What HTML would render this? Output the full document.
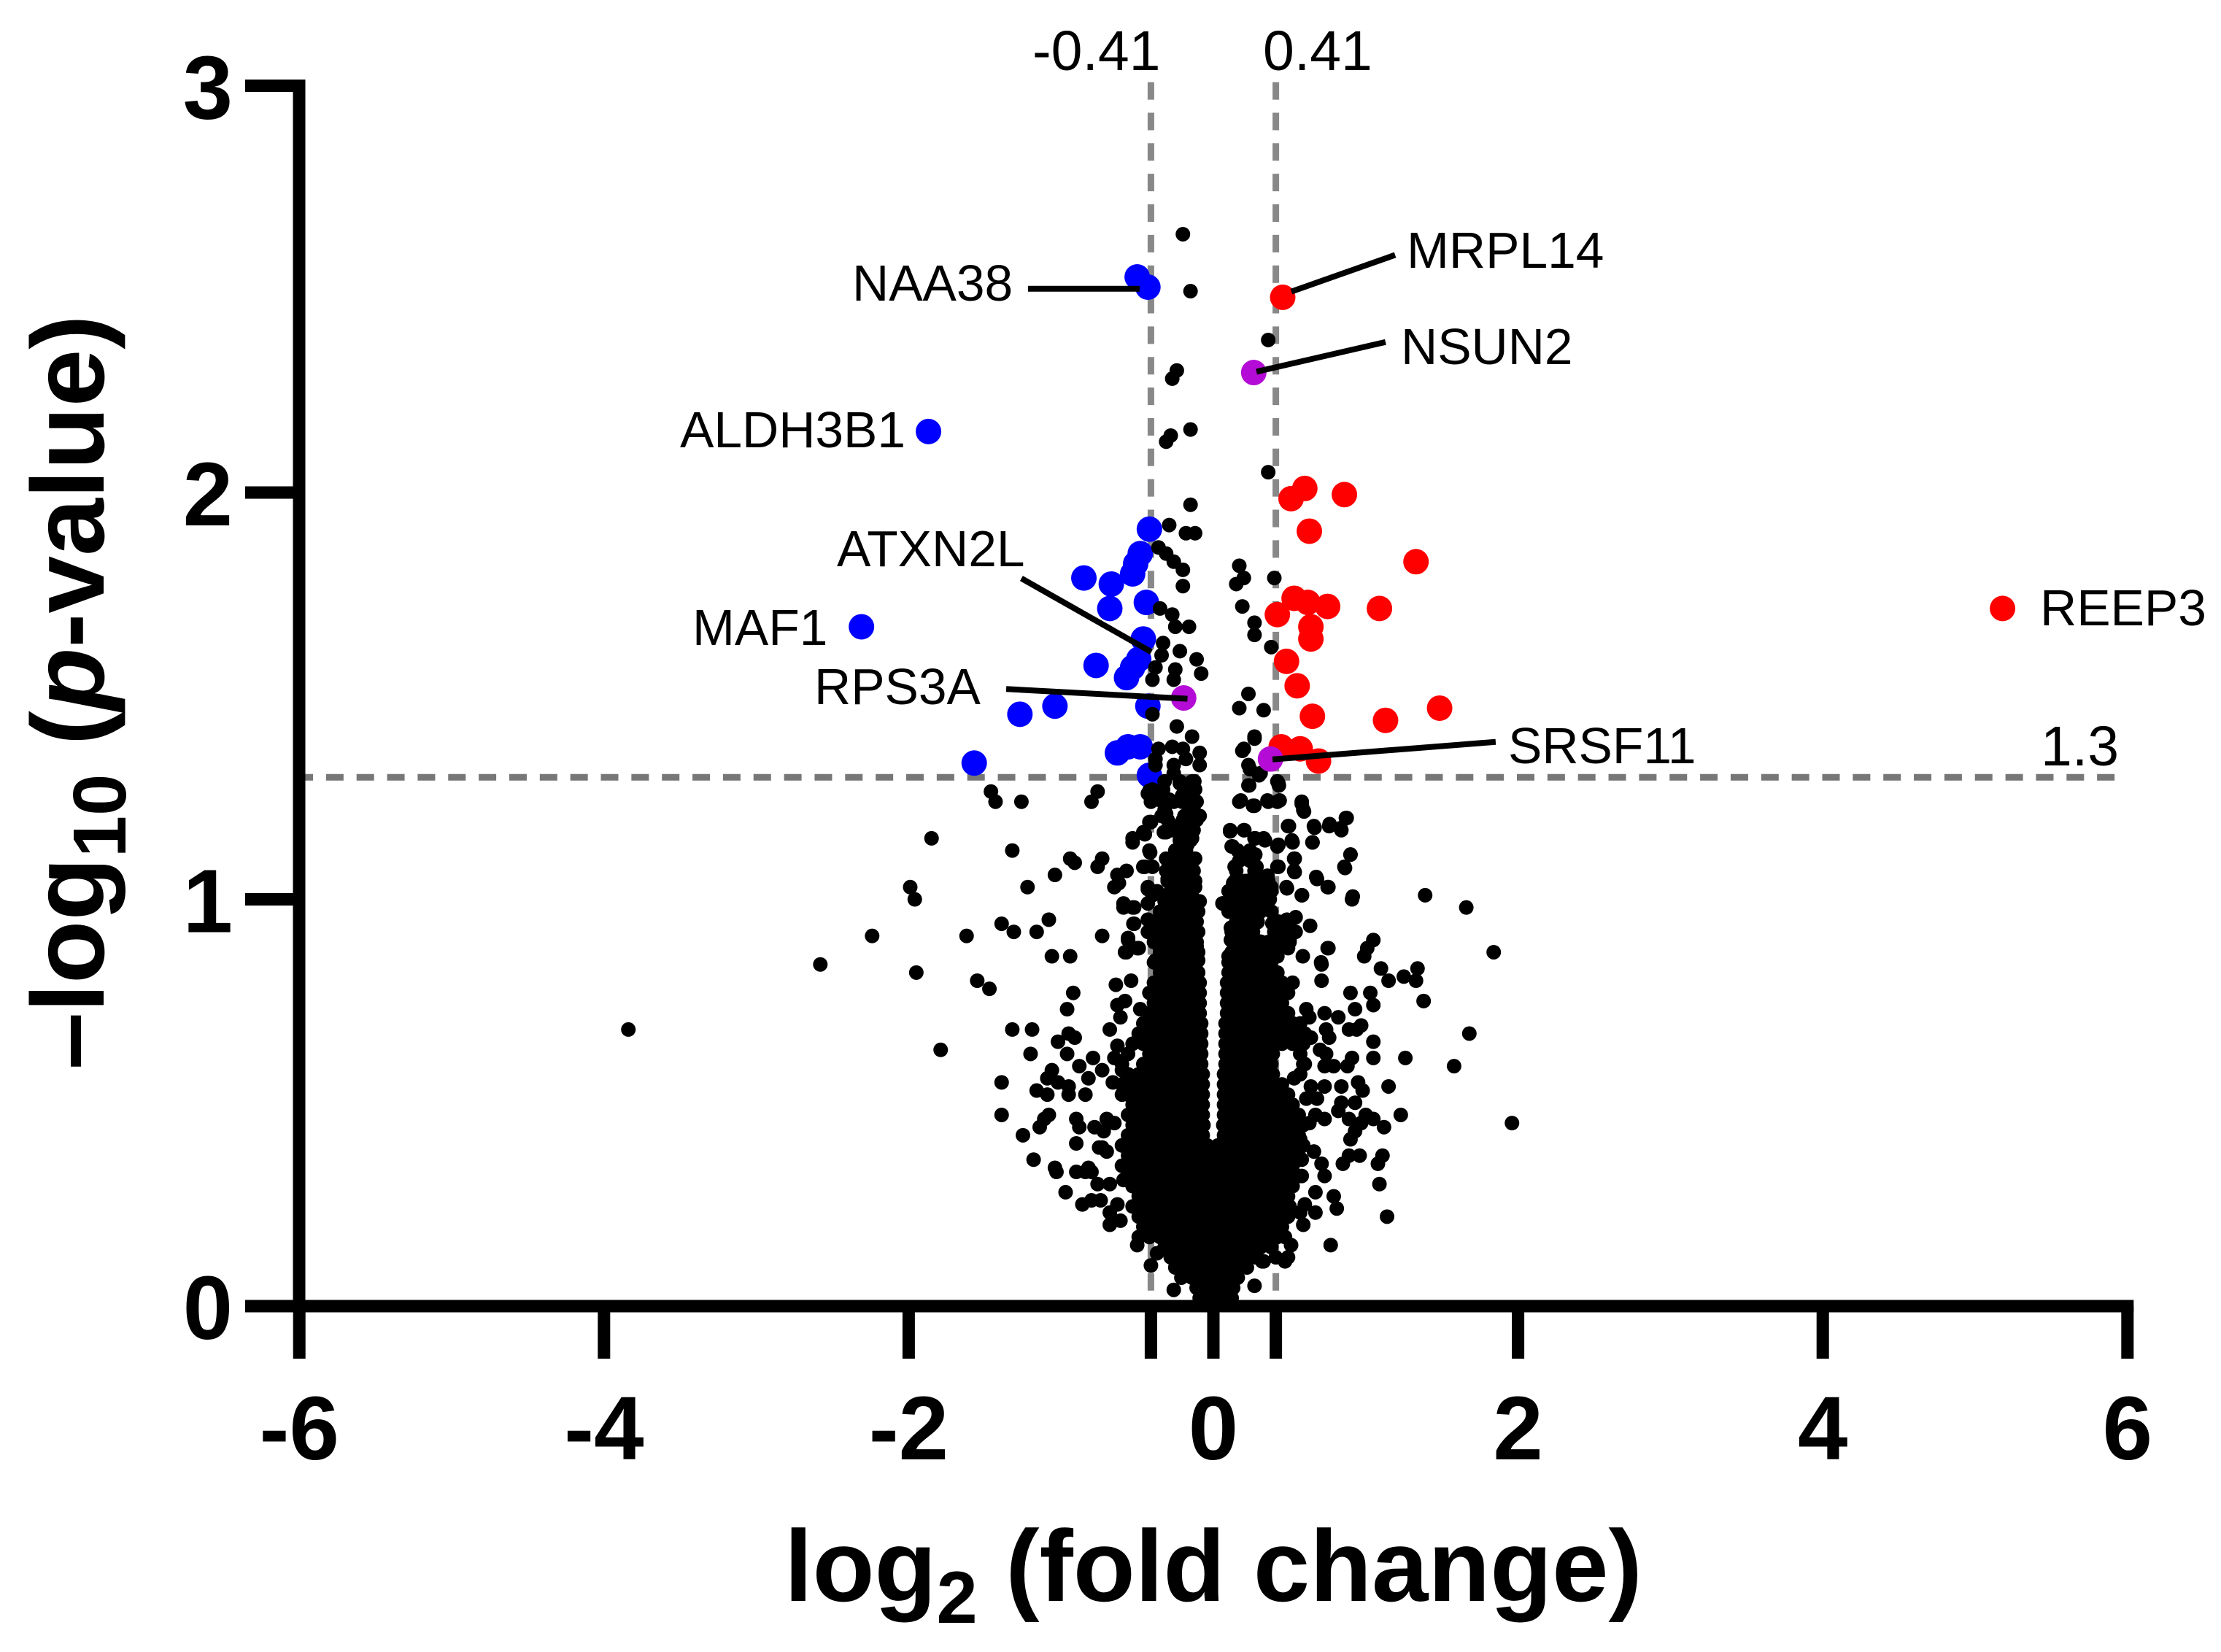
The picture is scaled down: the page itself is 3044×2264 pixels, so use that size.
<!DOCTYPE html>
<html lang="en">
<head>
<meta charset="utf-8">
<title>Volcano plot</title>
<style>
html,body{margin:0;padding:0;background:#fff}
svg{display:block;font-family:"Liberation Sans",Arial,sans-serif}
.gene{font-size:69.5px;fill:#000}
.thr{font-size:77px;fill:#000}
.tick{font-size:123px;font-weight:700;fill:#000}
.title{font-size:139px;font-weight:700;fill:#000}
</style>
</head>
<body>
<svg id="chart" width="3044" height="2264" viewBox="0 0 3044 2264" xmlns="http://www.w3.org/2000/svg">
  <rect width="3044" height="2264" fill="#fff"/>
  <g id="thresholds"></g>
  <g id="pts"></g>
  <g id="axes"></g>
  <g id="leaders"></g>

  <text class="thr" x="1415" y="96">-0.41</text>
  <text class="thr" x="1731" y="96">0.41</text>
  <text class="thr" x="2797" y="1049">1.3</text>

  <text class="gene" x="1928" y="367">MRPL14</text>
  <text class="gene" x="1920" y="499">NSUN2</text>
  <text class="gene" x="1168" y="412">NAA38</text>
  <text class="gene" x="932" y="613">ALDH3B1</text>
  <text class="gene" x="1147" y="776">ATXN2L</text>
  <text class="gene" x="949" y="884">MAF1</text>
  <text class="gene" x="1116" y="965">RPS3A</text>
  <text class="gene" x="2067" y="1046">SRSF11</text>
  <text class="gene" x="2796" y="857">REEP3</text>

  <text class="title" x="1075" y="2194">log<tspan font-size="101" dy="30">2</tspan><tspan dy="-30"> (fold change)</tspan></text>
  <text class="title" style="font-size:141.5px" transform="translate(142,1466) rotate(-90)" x="0" y="0">–log<tspan font-size="103" dy="30">10</tspan><tspan dy="-30"> (</tspan><tspan font-style="italic">p</tspan>-value)</text>
</svg>
<script>
const xTickValues=[-6,-4,-2,-0.41,0,0.41,2,4,6];
const xTickLabels=['-6','-4','-2','','0','','2','4','6'];
const yTickValues=[0,1,2,3];
const yTickLabels=['0','1','2','3'];
const foldChangeCutoffs=[-0.41,0.41];
const pValueCutoffs=[1.3];

const bluePoints=[[-.50,2.53],[-.43,2.505],[-1.87,2.15],[-2.31,1.67],[-.42,1.91],[-.48,1.85],[-.51,1.825],[-.53,1.80],[-.85,1.79],[-.67,1.775],[-.68,1.715],[-.44,1.73],[-.46,1.64],[-.49,1.59],[-.53,1.57],[-.57,1.545],[-.77,1.575],[-1.04,1.475],[-1.27,1.455],[-.43,1.475],[-.63,1.36],[-.56,1.375],[-.48,1.375],[-1.57,1.335],[-.42,1.305]];

const redPoints=[[.455,2.48],[.60,2.01],[.51,1.985],[.86,1.995],[.63,1.905],[1.33,1.83],[.53,1.74],[.62,1.73],[.75,1.72],[.42,1.70],[1.09,1.715],[.64,1.67],[.64,1.64],[.48,1.585],[.55,1.525],[.65,1.45],[1.485,1.47],[1.13,1.44],[.445,1.375],[.57,1.37],[.69,1.34],[5.18,1.715]];

const purplePoints=[[.265,2.295],[-.195,1.495],[.375,1.345]];

const scatterPoints=[
[-.20,2.635],[-.15,2.495],[.36,2.375],[-.24,2.30],[-.27,2.28],[-.15,2.155],[-.28,2.14],[-.31,2.125],[.36,2.05],[-.15,1.97],
[-.29,1.92],[-.18,1.90],[-.12,1.90],[-.36,1.865],[-.31,1.85],[-.26,1.83],[-.20,1.81],[-.20,1.77],[.17,1.82],[.20,1.79],[.15,1.775],[.40,1.79],[.19,1.72],
[-.35,1.715],[-.27,1.70],[-.25,1.67],[-.16,1.67],[.27,1.68],[.27,1.65],[.38,1.62],[-.33,1.63],[-.34,1.60],[-.22,1.61],[-.38,1.57],[-.40,1.54],[-.25,1.565],[-.26,1.54],[-.11,1.59],[-.08,1.555],
[.23,1.505],[.17,1.47],[.33,1.465],[-.40,1.455],[-.24,1.425],[-.14,1.40],[.27,1.395],[.19,1.365],
[-.36,1.37],[-.27,1.375],[-.20,1.37],[-.38,1.345],[-.18,1.345],[-.38,1.33],[-.09,1.36],[-.09,1.33],[-.26,1.33],[.23,1.33],[.30,1.305],
[-1.46,1.265],[-1.43,1.24],[-1.26,1.24],[-.76,1.265],[-.80,1.24],[.43,1.28],
[-.26,1.31],[-.22,1.285],[-.14,1.29],[-.42,1.267],[-.34,1.255],[-.26,1.24],[-.41,1.24],[-.19,1.26],[-.12,1.24],
[-.34,1.205],[-.26,1.18],[-.19,1.205],[-.12,1.20],[-.42,1.19],[-.46,1.165],[-.31,1.165],[-.14,1.165],[-.53,1.15],[-.22,1.16],
[.27,1.40],[.20,1.37],[.24,1.32],[.31,1.31],[.42,1.29],[.23,1.28],[.17,1.24],[.27,1.23],[.36,1.24],[.42,1.24],[.58,1.24],[.59,1.22],[.87,1.20],[.84,1.17],[.76,1.18],[.66,1.18],[.65,1.14],[.49,1.18],[.52,1.14],[.42,1.13],[.33,1.15],[.11,1.17],[.20,1.17],[.27,1.15],[.12,1.13],[.18,1.11],[.27,1.11],[.14,1.08],[.28,1.08],[.53,1.10],[.53,1.07],[.42,1.08],[.90,1.11],[.86,1.08],[.68,1.05],[.75,1.03],[.48,1.03],[.58,1.01],[.91,1.00],[1.39,1.01],[1.66,.98],[1.84,.87],[.06,.99],[.75,.88],[.71,.84],[.71,.80],[1.05,.90],[1.01,.88],[.99,.86],[1.10,.83],[1.15,.80],[1.25,.81],[1.34,.83],[1.33,.80],[1.38,.75],[.90,.77],[1.03,.77],[1.05,.74],[.93,.73],[1.68,.67],[1.58,.59],[.61,.73],[.63,.71],[.73,.72],[.82,.71],[.74,.68],[.76,.66],[.89,.68],[.94,.68],[.97,.69],[.64,.66],[.70,.63],[.74,.62],[.73,.59],[.79,.59],[.88,.59],[.91,.61],[1.05,.65],[1.05,.61],[1.26,.61],[.64,.54],[.73,.54],[.84,.54],[.95,.55],[.98,.53],[1.15,.54],[.61,.51],[.68,.51],[.67,.47],[.73,.46],[.84,.50],[.82,.48],[.89,.46],[.93,.50],[1.00,.47],[1.05,.46],[1.23,.47],[1.12,.44],[1.96,.45],[.97,.45],[.93,.43],[.90,.41],[1.11,.37],[1.08,.35],[1.09,.30],[.85,.35],[.89,.37],[.96,.37],[1.14,.22],[.79,.27],[.81,.24],[.67,.23],[.77,.15],[.59,.20],[.60,.25],[.57,.23],[.66,.38],[.71,.35],[.73,.32],[.67,.28],[.58,.36],[.58,.32],[.63,.45],[.57,.41],[.53,.56],[.51,.15],[.49,.12],[.41,.12],[.32,.11],[.27,.05],[.33,.11],[.47,.11],
[-1.85,1.15],[-1.99,1.03],[-1.96,1.00],[-2.24,.91],[-2.58,.84],[-1.95,.82],[-3.84,.68],[-1.79,.63],
[-1.32,1.12],[-.94,1.10],[-.91,1.09],[-.73,1.10],[-.76,1.08],[-1.04,1.06],[-1.22,1.03],[-.57,1.07],[-.63,1.06],[-.62,1.04],[-.65,1.03],[-1.39,.94],[-1.31,.92],[-1.16,.92],[-1.08,.95],[-1.62,.91],[-.73,.91],[-1.06,.86],[-.94,.86],[-1.55,.80],[-1.47,.78],[-.64,.79],[-.54,.80],[-.92,.77],[-.96,.73],[-1.32,.68],[-1.19,.68],[-1.02,.65],[-.95,.67],[-.91,.66],[-1.20,.62],[-.96,.62],[-.79,.61],[-.88,.59],[-.73,.58],[-.82,.56],[-1.06,.58],[-1.09,.56],[-1.02,.55],[-.95,.54],[-1.16,.53],[-1.09,.52],[-.95,.52],[-.84,.52],[-1.39,.55],[-1.39,.47],[-1.08,.47],[-1.11,.46],[-1.14,.44],[-.90,.46],[-.88,.44],[-.78,.44],[-1.25,.42],[-.90,.40],[-1.18,.36],[-1.04,.34],[-.82,.34],
[-.41,1.19],[-.45,1.16],[-.42,1.12],[-.46,1.08],[-.43,1.03],[-.37,1.02],[-.59,.99],[-.52,.98],[-.52,.94],[-.56,.90],[-.50,.88],[-.58,.87],[-.58,.75],[-.63,.74],[-.61,.71],[-.48,.73],[-.68,.68],[-.63,.64],[-.65,.61],[-.73,.39],[-.72,.43],[-.65,.45],[-.60,.58],[-.66,.55],[-.60,.52],
[-1.03,.33],[-.90,.33],[-.84,.33],[-.80,.33],[-.76,.30],[-.68,.30],[-.59,.31],[-.97,.28],[-.86,.25],[-.80,.26],[-.74,.26],[-.63,.25],[-.68,.23],[-.61,.21],[-.68,.20],[-.50,.15],[-.41,.10],[-.37,.13],[-.26,.04],[-.70,.46],[-.75,.39],[-.70,.38]
];

const neckPoints=[
[-.32,1.29],[-.22,1.29],[-.125,1.29],[-.43,1.26],[-.34,1.255],[-.205,1.255],[-.11,1.24],[-.205,1.24],[-.31,1.21],[-.09,1.205],[-.17,1.21],[-.41,1.19],[-.45,1.16],[-.325,1.165],[-.205,1.18],[-.14,1.15],[-.53,1.14],[-.22,1.13],[-.17,1.135],[-.415,1.115],[-.45,1.08],[-.31,1.10],[-.24,1.10],[-.12,1.10],[-.40,1.08],[-.31,1.07],[-.16,1.075],[-.30,1.05],[-.205,1.03],[-.12,1.03],[-.43,1.025],[-.40,1.01],[-.59,.98],[-.53,.98],[-.43,.99],[-.32,1.0],[-.22,1.0],[-.09,.995],[-.525,.94],[-.43,.95],[-.33,.956],[-.22,.956],[-.14,.95],[-.56,.905],[-.49,.88],[-.57,.87],[-.43,.92],[-.33,.92],[-.22,.92],[-.125,.92],[-.35,.88],[-.24,.88],[-.11,.885],[-.38,.85],[-.27,.85],[-.10,.85],
[.235,1.28],[.427,1.285],[.18,1.243],[.26,1.23],[.355,1.243],[.435,1.243],[.58,1.235],[.595,1.216],[.875,1.20],[.763,1.185],[.835,1.175],[.664,1.176],[.651,1.14],[.496,1.18],[.515,1.145],[.427,1.134],[.339,1.145],[.11,1.167],[.203,1.17],[.275,1.15],[.126,1.13],[.21,1.11],[.275,1.11],[.14,1.08],[.283,1.08],[.427,1.08],[.534,1.10],[.534,1.067],[.90,1.11],[.864,1.077],[.675,1.055],[.755,1.03],[.483,1.027],[.582,1.01],[.915,1.007],[.13,1.04],[.235,1.046],[.355,1.058],[.38,1.03],[.37,1.0],[.06,.99],[.147,1.01],[.243,1.0],[.163,.974],[.26,.968],[.115,.93],[.21,.938],[.29,.944],[.387,.941],[.483,.95],[.54,.956],[.635,.935],[.435,.92],[.50,.90],[.115,.90],[.21,.90],[.31,.896],[.40,.89],[.49,.88],[.10,.86],[.21,.86],[.32,.86],[.42,.86],[.587,.86],[.755,.88],[.707,.845]
];

const upperLobePoints=[
[-.35,.87],[-.28,.87],[-.21,.87],[-.14,.87],[-.10,.87],[.12,.87],[.19,.87],[.26,.87],[.33,.87],[.40,.87],
[-.39,.895],[-.32,.895],[-.25,.895],[-.18,.895],[-.11,.895],[.15,.895],[.22,.895],[.29,.895],[.36,.895],[.43,.895],[.50,.895],
[-.35,.92],[-.28,.92],[-.21,.92],[-.14,.92],[-.10,.92],[.12,.92],[.19,.92],[.26,.92],[.40,.92],[.47,.92],[.54,.92],
[-.39,.945],[-.32,.945],[-.25,.945],[-.18,.945],[-.11,.945],[.15,.945],[.22,.945],[.29,.945],[.43,.945],[.50,.945],
[-.35,.97],[-.28,.97],[-.21,.97],[-.14,.97],[-.10,.97],[.10,.97],[.17,.97],[.24,.97],[.31,.97],[.38,.97],
[-.32,.995],[-.25,.995],[-.18,.995],[-.11,.995],[.14,.995],[.21,.995],[.28,.995],[.35,.995],
[-.28,1.02],[-.21,1.02],[-.14,1.02],[.10,1.02],[.17,1.02],[.24,1.02],[.31,1.02],[.38,1.02],
[-.30,1.045],[-.23,1.045],[-.16,1.045],[-.12,1.045],[.14,1.045],[.21,1.045],[.28,1.045],[.36,1.045],
[-.27,1.07],[-.20,1.07],[-.13,1.07],[.15,1.07],[.27,1.07],
[-.30,1.095],[-.23,1.095],[-.16,1.095],[.17,1.095],[.24,1.095],
[-.25,1.12],[-.18,1.12],[.16,1.12],[.24,1.12],
[-.22,1.145],[-.15,1.145],
[-.27,1.17],[-.20,1.17],[-.13,1.17],
[-.30,1.195],[-.20,1.195],[-.16,1.195],[-.11,1.195],
[-.32,1.22],[-.13,1.22],
[-.36,1.245],[-.29,1.245],[-.15,1.245],
[-.40,1.27],[-.33,1.27],[-.19,1.27],[-.12,1.27]
];

const corePoints=[
[-.09,.02],[-.02,.02],[.05,.02],[.12,.02],
[-.11,.045],[-.04,.045],[.03,.045],[.10,.045],[.13,.045],
[-.21,.07],[-.14,.07],[-.07,.07],[0,.07],[.07,.07],[.14,.07],[.16,.07],
[-.25,.095],[-.18,.095],[-.11,.095],[-.04,.095],[.03,.095],[.10,.095],[.17,.095],[.22,.095],
[-.28,.12],[-.21,.12],[-.14,.12],[-.07,.12],[0,.12],[.07,.12],[.14,.12],[.21,.12],[.28,.12],
[-.32,.145],[-.25,.145],[-.18,.145],[-.11,.145],[-.04,.145],[.03,.145],[.10,.145],[.17,.145],[.24,.145],[.31,.145],[.38,.145],
[-.49,.17],[-.42,.17],[-.35,.17],[-.28,.17],[-.21,.17],[-.14,.17],[-.07,.17],[0,.17],[.07,.17],[.14,.17],[.21,.17],[.28,.17],[.35,.17],[.42,.17],[.47,.17],
[-.46,.195],[-.39,.195],[-.32,.195],[-.25,.195],[-.18,.195],[-.11,.195],[-.04,.195],[.03,.195],[.10,.195],[.17,.195],[.24,.195],[.31,.195],[.38,.195],[.45,.195],
[-.49,.22],[-.42,.22],[-.35,.22],[-.28,.22],[-.21,.22],[-.14,.22],[-.07,.22],[0,.22],[.07,.22],[.14,.22],[.21,.22],[.28,.22],[.35,.22],[.42,.22],[.49,.22],
[-.53,.245],[-.46,.245],[-.39,.245],[-.32,.245],[-.25,.245],[-.18,.245],[-.11,.245],[-.04,.245],[.03,.245],[.10,.245],[.17,.245],[.24,.245],[.31,.245],[.38,.245],[.45,.245],[.50,.245],
[-.49,.27],[-.42,.27],[-.35,.27],[-.28,.27],[-.21,.27],[-.14,.27],[-.07,.27],[0,.27],[.07,.27],[.14,.27],[.21,.27],[.28,.27],[.35,.27],[.42,.27],[.49,.27],
[-.53,.295],[-.46,.295],[-.39,.295],[-.32,.295],[-.25,.295],[-.18,.295],[-.11,.295],[-.04,.295],[.03,.295],[.10,.295],[.17,.295],[.24,.295],[.31,.295],[.38,.295],[.45,.295],[.52,.295],
[-.56,.32],[-.49,.32],[-.42,.32],[-.35,.32],[-.28,.32],[-.21,.32],[-.14,.32],[-.07,.32],[0,.32],[.07,.32],[.14,.32],[.21,.32],[.28,.32],[.35,.32],[.42,.32],[.49,.32],[.56,.32],
[-.60,.345],[-.53,.345],[-.46,.345],[-.39,.345],[-.32,.345],[-.25,.345],[-.18,.345],[-.11,.345],[-.04,.345],[.03,.345],[.10,.345],[.17,.345],[.24,.345],[.31,.345],[.38,.345],[.45,.345],[.52,.345],
[-.56,.37],[-.49,.37],[-.42,.37],[-.35,.37],[-.28,.37],[-.21,.37],[-.14,.37],[-.07,.37],[0,.37],[.07,.37],[.14,.37],[.21,.37],[.28,.37],[.35,.37],[.42,.37],[.49,.37],[.56,.37],
[-.60,.395],[-.53,.395],[-.46,.395],[-.39,.395],[-.32,.395],[-.25,.395],[-.18,.395],[-.11,.395],[-.04,.395],[.03,.395],[.10,.395],[.17,.395],[.24,.395],[.31,.395],[.38,.395],[.45,.395],[.52,.395],[.59,.395],
[-.56,.42],[-.49,.42],[-.42,.42],[-.35,.42],[-.28,.42],[-.21,.42],[-.14,.42],[-.07,.42],[.07,.42],[.14,.42],[.21,.42],[.28,.42],[.35,.42],[.42,.42],[.49,.42],[.56,.42],
[-.53,.445],[-.46,.445],[-.39,.445],[-.32,.445],[-.25,.445],[-.18,.445],[-.11,.445],[-.065,.445],[.065,.445],[.10,.445],[.17,.445],[.24,.445],[.31,.445],[.38,.445],[.45,.445],[.52,.445],[.59,.445],
[-.56,.47],[-.49,.47],[-.42,.47],[-.35,.47],[-.28,.47],[-.21,.47],[-.14,.47],[-.07,.47],[.07,.47],[.14,.47],[.21,.47],[.28,.47],[.35,.47],[.42,.47],[.49,.47],[.56,.47],
[-.53,.495],[-.46,.495],[-.39,.495],[-.32,.495],[-.25,.495],[-.18,.495],[-.11,.495],[-.07,.495],[.07,.495],[.10,.495],[.17,.495],[.24,.495],[.31,.495],[.38,.495],[.45,.495],[.52,.495],
[-.56,.52],[-.49,.52],[-.42,.52],[-.35,.52],[-.28,.52],[-.21,.52],[-.14,.52],[-.07,.52],[.07,.52],[.14,.52],[.21,.52],[.28,.52],[.35,.52],[.42,.52],[.49,.52],
[-.60,.545],[-.53,.545],[-.46,.545],[-.39,.545],[-.32,.545],[-.25,.545],[-.18,.545],[-.11,.545],[-.07,.545],[.07,.545],[.10,.545],[.17,.545],[.24,.545],[.31,.545],[.38,.545],[.45,.545],
[-.56,.57],[-.49,.57],[-.42,.57],[-.35,.57],[-.28,.57],[-.21,.57],[-.14,.57],[-.07,.57],[.07,.57],[.14,.57],[.21,.57],[.28,.57],[.35,.57],[.39,.57],[.57,.57],
[-.60,.595],[-.46,.595],[-.39,.595],[-.32,.595],[-.25,.595],[-.18,.595],[-.11,.595],[-.08,.595],[.08,.595],[.10,.595],[.17,.595],[.24,.595],[.31,.595],[.38,.595],[.59,.595],[.60,.595],
[-.56,.62],[-.42,.62],[-.35,.62],[-.28,.62],[-.21,.62],[-.14,.62],[-.08,.62],[.08,.62],[.14,.62],[.21,.62],[.28,.62],[.35,.62],[.39,.62],[.57,.62],
[-.53,.645],[-.46,.645],[-.39,.645],[-.32,.645],[-.25,.645],[-.18,.645],[-.11,.645],[-.08,.645],[.08,.645],[.10,.645],[.17,.645],[.24,.645],[.31,.645],[.38,.645],[.45,.645],[.52,.645],[.59,.645],
[-.49,.67],[-.42,.67],[-.35,.67],[-.28,.67],[-.21,.67],[-.14,.67],[-.08,.67],[.08,.67],[.14,.67],[.21,.67],[.28,.67],[.35,.67],[.42,.67],[.49,.67],[.56,.67],[.60,.67],
[-.46,.695],[-.39,.695],[-.32,.695],[-.25,.695],[-.18,.695],[-.11,.695],[-.08,.695],[.08,.695],[.10,.695],[.17,.695],[.24,.695],[.31,.695],[.38,.695],[.45,.695],[.52,.695],[.57,.695],
[-.42,.72],[-.35,.72],[-.28,.72],[-.21,.72],[-.14,.72],[-.09,.72],[.09,.72],[.14,.72],[.21,.72],[.28,.72],[.35,.72],[.42,.72],[.49,.72],
[-.39,.745],[-.32,.745],[-.25,.745],[-.18,.745],[-.11,.745],[-.09,.745],[.09,.745],[.10,.745],[.17,.745],[.24,.745],[.31,.745],[.38,.745],[.45,.745],
[-.42,.77],[-.35,.77],[-.28,.77],[-.21,.77],[-.14,.77],[-.09,.77],[.09,.77],[.14,.77],[.21,.77],[.28,.77],[.35,.77],[.42,.77],[.49,.77],
[-.39,.795],[-.32,.795],[-.25,.795],[-.18,.795],[-.11,.795],[-.09,.795],[.09,.795],[.17,.795],[.24,.795],[.31,.795],[.38,.795],[.45,.795],[.52,.795],
[-.35,.82],[-.28,.82],[-.21,.82],[-.14,.82],[-.10,.82],[.10,.82],[.14,.82],[.21,.82],[.28,.82],[.35,.82],[.42,.82],
[-.39,.845],[-.32,.845],[-.25,.845],[-.18,.845],[-.11,.845],[.10,.845],[.17,.845],[.24,.845],[.31,.845],[.38,.845]
];

const leaderNames=['naa38','nsun2','mrpl14','atxn2l','rps3a','srsf11'];
const leaderFromFold=[-1.217,1.130,1.193,-1.26,-1.36,1.853];
const leaderFromP=[2.501,2.370,2.584,1.789,1.517,1.387];
const leaderToFold=[-.484,.283,.512,-.407,-.17,.388];
const leaderToP=[2.501,2.297,2.494,1.608,1.493,1.344];

const SVGNS='http://www.w3.org/2000/svg';
const xScale=v=>1663+208.8*v;
const yScale=v=>1790-557.5*v;
const axisLeft=410, axisRight=xScale(6), axisBottom=yScale(0), axisTop=yScale(3);
function mk(tag,attrs,parent){
  const el=document.createElementNS(SVGNS,tag);
  for(const k in attrs) el.setAttribute(k,attrs[k]);
  parent.appendChild(el);
  return el;
}

const thresholds=document.getElementById('thresholds');
foldChangeCutoffs.forEach(v=>{
  const l=mk('line',{x1:xScale(v),x2:xScale(v),y1:112.6,y2:1781,stroke:'#888','stroke-width':9,'stroke-dasharray':'24 17.85'},thresholds);
  
  
});
pValueCutoffs.forEach(v=>{
  const l=mk('line',{x1:405,x2:2899,y1:yScale(v),y2:yScale(v),stroke:'#777','stroke-width':9,'stroke-dasharray':'24 17.85'},thresholds);
  
  
});

const pts=document.getElementById('pts');
function drawDots(list,r,fill,name){
  list.forEach(p=>{
    const c=mk('circle',{cx:xScale(p[0]),cy:yScale(p[1]),r:r,fill:fill},pts);
    
    
  });
}
drawDots(bluePoints,17.5,'#0000ff','down-regulated-point');
drawDots(redPoints,17.5,'#ff0000','up-regulated-point');
drawDots(corePoints,10,'#000','background-point');
drawDots(upperLobePoints,10,'#000','background-point');
drawDots(neckPoints,10,'#000','background-point');
drawDots(scatterPoints,10,'#000','background-point');
drawDots(purplePoints,17.5,'#b40cd6','highlighted-point');

const axes=document.getElementById('axes');
const yAxis=mk('rect',{x:axisLeft-8.5,y:axisTop-8.5,width:17,height:axisBottom-axisTop+17,fill:'#000'},axes);


const xAxis=mk('rect',{x:axisLeft-8.5,y:axisBottom-8.5,width:axisRight-axisLeft+17,height:17,fill:'#000'},axes);



xTickValues.forEach((v,i)=>{
  const t=mk('rect',{x:xScale(v)-8.5,y:axisBottom,width:17,height:72,fill:'#000'},axes);
  
  
  if(xTickLabels[i]){
    const lab=mk('text',{x:xScale(v),y:2000,'text-anchor':'middle',class:'tick'},axes);
    lab.textContent=xTickLabels[i];
    
    
  }
});
yTickValues.forEach((v,i)=>{
  const t=mk('rect',{x:336,y:yScale(v)-8.5,width:74,height:17,fill:'#000'},axes);
  
  
  const lab=mk('text',{x:319,y:yScale(v)+45,'text-anchor':'end',class:'tick'},axes);
  lab.textContent=yTickLabels[i];
  
  
});

const leaders=document.getElementById('leaders');
leaderNames.forEach((n,i)=>{
  const l=mk('line',{x1:xScale(leaderFromFold[i]),y1:yScale(leaderFromP[i]),x2:xScale(leaderToFold[i]),y2:yScale(leaderToP[i]),stroke:'#000','stroke-width':8},leaders);
  
  
});
</script>
</body>
</html>
